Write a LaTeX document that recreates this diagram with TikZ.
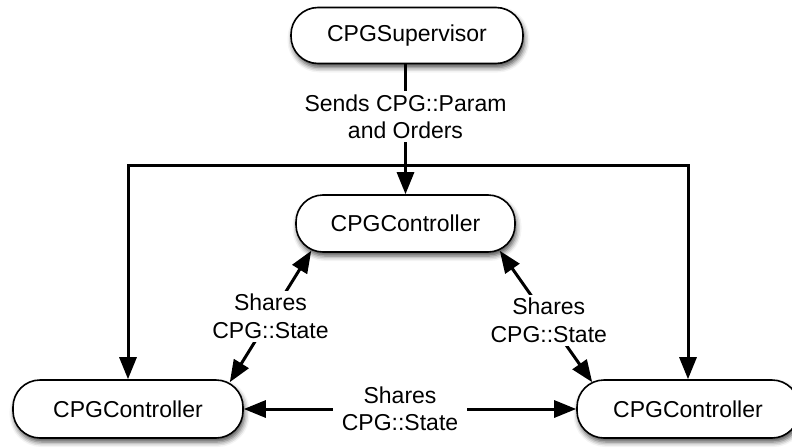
\documentclass[tikz,border=0pt]{standalone}
\usepackage{fontspec}
\setmainfont{Liberation Sans}
\usetikzlibrary{arrows.meta,calc,shadows.blur}

\tikzset{
  pill/.style={draw=black, line width=1.6pt, fill=white, rounded corners=27pt,
    minimum height=56pt, inner sep=0pt,
    font=\fontsize{23pt}{28pt}\selectfont,
    blur shadow={shadow xshift=1.5pt, shadow yshift=-4pt,
      shadow blur radius=5pt, shadow opacity=70}},
  link/.style={line width=3pt, draw=black},
  tip/.style={-{Triangle[length=22pt,width=17pt]}},
  bitip/.style={{Triangle[length=22pt,width=17pt]}-{Triangle[length=22pt,width=17pt]}},
  lbl/.style={fill=white, inner sep=3pt, align=center,
    font=\fontsize{23pt}{27.5pt}\selectfont}
}

\begin{document}
\begin{tikzpicture}[x=1pt, y=-1pt]
  \useasboundingbox (0,0) rectangle (792,447);

  % nodes
  \node[pill, minimum width=232pt] (sup) at (407,35.5) {CPGSupervisor};
  \node[pill, minimum width=219pt, minimum height=57pt] (top) at (405.5,223.5) {CPGController};
  \node[pill, minimum width=230pt, minimum height=58pt] (bl) at (128,409) {CPGController};
  \node[pill, minimum width=222pt, minimum height=58pt] (br) at (688,409) {CPGController};

  % supervisor feed, split to all three controllers
  \coordinate (split) at (top.north |- 0,165);
  \draw[link, tip] (split) -| (bl.north);
  \draw[link, tip] (split) -| (br.north);
  \draw[link, tip] (split) -- (top.north);
  \draw[link] (sup.south -| top.north) -- (split)
    node[lbl, pos=0.52] {Sends CPG::Param\\and Orders};

  % shared state links
  \draw[link, bitip] ($(top.south west)+(16,-2)$) -- ($(bl.north east)+(-14,3)$)
    node[lbl, midway] {Shares\\CPG::State};
  \draw[link, bitip] ($(top.south east)+(-16,-2)$) -- ($(br.north west)+(16,3)$)
    node[lbl, pos=0.53] {Shares\\CPG::State};
  \draw[link, bitip] (bl.east) -- (br.west)
    node[lbl, pos=0.47, inner sep=9pt] {Shares\\CPG::State};
\end{tikzpicture}
\end{document}
